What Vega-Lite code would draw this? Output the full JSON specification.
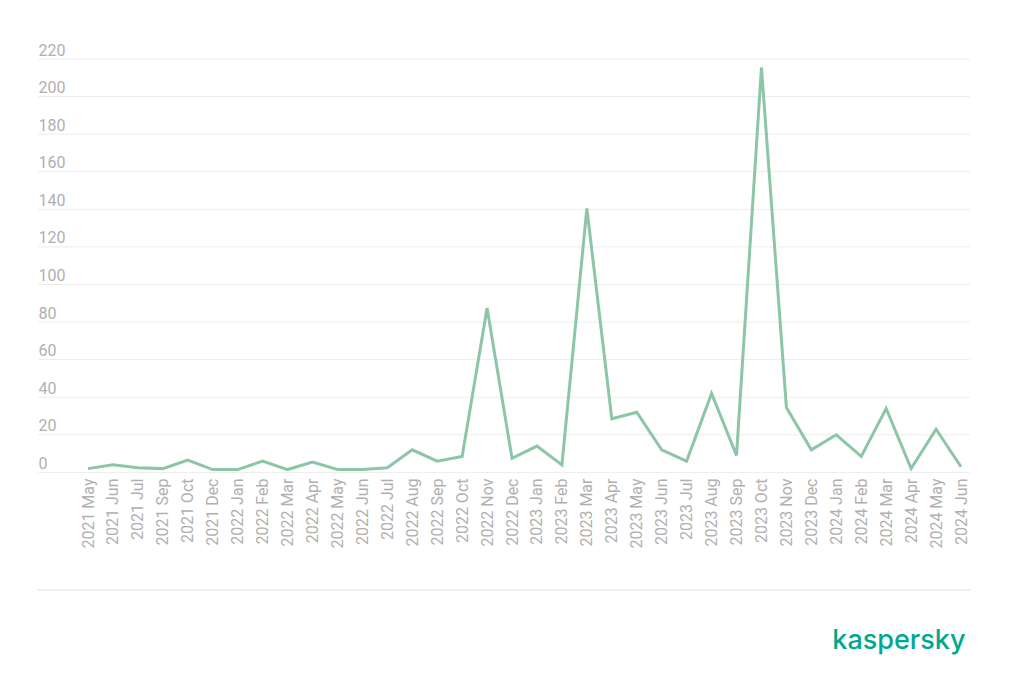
{
  "$schema": "https://vega.github.io/schema/vega-lite/v6.json",
  "width": 932,
  "height": 531,
  "autosize": {"type": "none"},
  "padding": {"left": 38, "top": 59, "right": 54, "bottom": 105},
  "background": "white",
  "config": {"view": {"stroke": null}, "font": "Roboto"},
  "title": {
    "text": "kaspersky",
    "orient": "bottom",
    "anchor": "end",
    "color": "#00a88e",
    "fontSize": 27,
    "font": "Inter",
    "fontWeight": 500,
    "baseline": "alphabetic",
    "offset": 58,
    "dx": -5
  },
  "datasets": {
    "grid": [
      {"tick": 0}, {"tick": 20}, {"tick": 40}, {"tick": 60}, {"tick": 80}, {"tick": 100},
      {"tick": 120}, {"tick": 140}, {"tick": 160}, {"tick": 180}, {"tick": 200}, {"tick": 220}
    ],
    "series": [
      {"month": "2021 May", "value": 2},
      {"month": "2021 Jun", "value": 4},
      {"month": "2021 Jul", "value": 2.5},
      {"month": "2021 Sep", "value": 2},
      {"month": "2021 Oct", "value": 6.5},
      {"month": "2021 Dec", "value": 1.5},
      {"month": "2022 Jan", "value": 1.5},
      {"month": "2022 Feb", "value": 6},
      {"month": "2022 Mar", "value": 1.5},
      {"month": "2022 Apr", "value": 5.5},
      {"month": "2022 May", "value": 1.5},
      {"month": "2022 Jun", "value": 1.5},
      {"month": "2022 Jul", "value": 2.5},
      {"month": "2022 Aug", "value": 12},
      {"month": "2022 Sep", "value": 6},
      {"month": "2022 Oct", "value": 8.5},
      {"month": "2022 Nov", "value": 87.5},
      {"month": "2022 Dec", "value": 7.5},
      {"month": "2023 Jan", "value": 14},
      {"month": "2023 Feb", "value": 4},
      {"month": "2023 Mar", "value": 140.5},
      {"month": "2023 Apr", "value": 28.5},
      {"month": "2023 May", "value": 32},
      {"month": "2023 Jun", "value": 12},
      {"month": "2023 Jul", "value": 6},
      {"month": "2023 Aug", "value": 42},
      {"month": "2023 Sep", "value": 9},
      {"month": "2023 Oct", "value": 215.5},
      {"month": "2023 Nov", "value": 34.5},
      {"month": "2023 Dec", "value": 12},
      {"month": "2024 Jan", "value": 20},
      {"month": "2024 Feb", "value": 8.5},
      {"month": "2024 Mar", "value": 34},
      {"month": "2024 Apr", "value": 2},
      {"month": "2024 May", "value": 23},
      {"month": "2024 Jun", "value": 3}
    ],
    "baseline": [{"level": -62.6}]
  },
  "layer": [
    {
      "data": {"name": "grid"},
      "mark": {"type": "rule", "color": "#ececec", "strokeWidth": 1},
      "encoding": {
        "y": {"field": "tick", "type": "quantitative"}
      }
    },
    {
      "data": {"name": "series"},
      "mark": {"type": "line", "color": "#8cc6a6", "strokeWidth": 3, "strokeJoin": "miter"},
      "encoding": {
        "x": {
          "field": "month",
          "type": "ordinal",
          "sort": null,
          "scale": {"type": "point", "padding": 0, "range": [50, 923]},
          "axis": {
            "title": null,
            "labelAngle": -90,
            "labelAlign": "right",
            "labelBaseline": "middle",
            "ticks": false,
            "domain": false,
            "grid": false,
            "labelPadding": 5,
            "offset": -117,
            "labelFontSize": 16,
            "labelColor": "#b0b0b0",
            "labelFont": "Roboto"
          }
        },
        "y": {
          "field": "value",
          "type": "quantitative",
          "scale": {"domain": [-62.6, 220], "nice": false, "zero": false},
          "axis": {
            "title": null,
            "values": [0, 20, 40, 60, 80, 100, 120, 140, 160, 180, 200, 220],
            "domain": false,
            "ticks": false,
            "tickSize": 0,
            "grid": false,
            "labelAlign": "left",
            "labelBaseline": "alphabetic",
            "labelPadding": 0,
            "labelOffset": -4,
            "labelFontSize": 16,
            "labelColor": "#b0b0b0",
            "labelFont": "Roboto",
            "labelBound": false
          }
        }
      }
    },
    {
      "data": {"name": "baseline"},
      "mark": {"type": "rule", "color": "#dddddd", "strokeWidth": 1},
      "encoding": {"y": {"field": "level", "type": "quantitative"}}
    }
  ]
}
